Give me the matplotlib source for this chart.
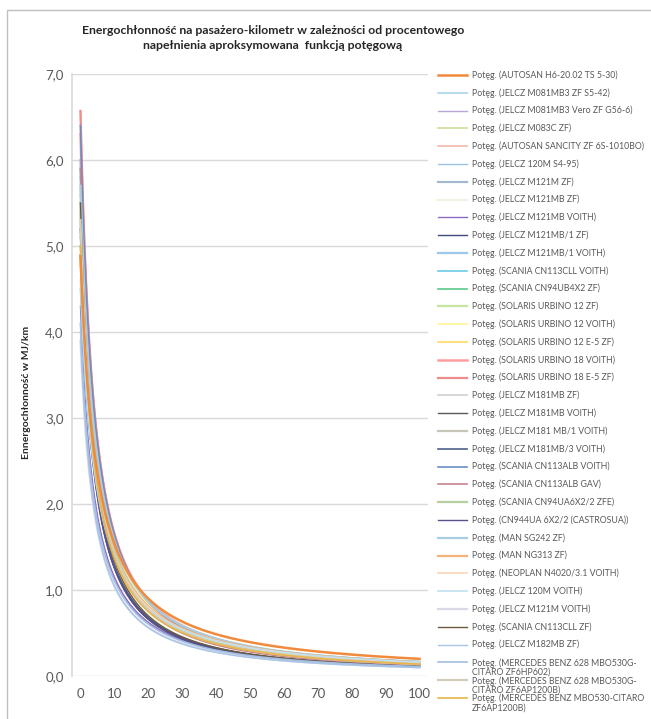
import numpy as np
import matplotlib
matplotlib.use("Agg")
import matplotlib.pyplot as plt
from matplotlib.patches import Rectangle
from matplotlib.lines import Line2D

plt.rcParams['font.family'] = ['Lato', 'DejaVu Sans']

# power-law trendlines y = a * n^b, n = index of category (0, 5, ..., 100 -> 1..21)
names = [
    "AUTOSAN H6-20.02 TS 5-30",
    "JELCZ M081MB3 ZF S5-42",
    "JELCZ M081MB3 Vero ZF G56-6",
    "JELCZ M083C ZF",
    "AUTOSAN SANCITY ZF 6S-1010BO",
    "JELCZ 120M S4-95",
    "JELCZ M121M ZF",
    "JELCZ M121MB ZF",
    "JELCZ M121MB VOITH",
    "JELCZ M121MB/1 ZF",
    "JELCZ M121MB/1 VOITH",
    "SCANIA CN113CLL VOITH",
    "SCANIA CN94UB4X2 ZF",
    "SOLARIS URBINO 12 ZF",
    "SOLARIS URBINO 12 VOITH",
    "SOLARIS URBINO 12 E-5 ZF",
    "SOLARIS URBINO 18 VOITH",
    "SOLARIS URBINO 18 E-5 ZF",
    "JELCZ M181MB ZF",
    "JELCZ M181MB VOITH",
    "JELCZ M181 MB/1 VOITH",
    "JELCZ M181MB/3 VOITH",
    "SCANIA CN113ALB VOITH",
    "SCANIA CN113ALB GAV",
    "SCANIA CN94UA6X2/2 ZFE",
    "CN944UA 6X2/2 (CASTROSUA)",
    "MAN SG242 ZF",
    "MAN NG313 ZF",
    "NEOPLAN N4020/3.1 VOITH",
    "JELCZ 120M VOITH",
    "JELCZ M121M VOITH",
    "SCANIA CN113CLL ZF",
    "JELCZ M182MB ZF",
    "MERCEDES BENZ 628 MBO530G-\nCITARO ZF6HP602",
    "MERCEDES BENZ 628 MBO530G-\nCITARO ZF6AP1200B",
    "MERCEDES BENZ MBO530-CITARO\nZF6AP1200B",
]
coef_a = [4.88, 5.2, 4.1, 5.6, 6.57, 6.4, 6.0, 5.3, 4.3, 5.0, 5.8, 4.5,
          5.9, 5.5, 5.7, 4.8, 6.3, 6.57, 5.6, 5.1, 5.4, 5.2, 6.4, 5.9,
          5.5, 4.9, 5.7, 4.9, 5.0, 4.6, 3.9, 5.5, 4.0, 4.1, 5.3, 5.0]
coef_b = [-1.05, -1.20, -1.17, -1.22, -1.25, -1.26, -1.22, -1.18, -1.20, -1.26,
          -1.20, -1.08, -1.20, -1.18, -1.19, -1.14, -1.22, -1.26, -1.20, -1.25,
          -1.20, -1.27, -1.24, -1.27, -1.20, -1.24, -1.17, -1.12, -1.14, -1.10,
          -1.20, -1.28, -1.22, -1.19, -1.20, -1.18]

colors = ["#F08A3C", "#A9D4EC", "#B9A7D6", "#C9DE9A", "#F0B8A8", "#9DC3E6",
          "#A6B8CF", "#F2F2E4", "#8B6BC2", "#3E4A7A", "#9CC8EE", "#6CCBEA",
          "#5BC98A", "#C7E3A0", "#FFF59A", "#FFD966", "#FF9E9E", "#EE8C8C",
          "#D0D0D0", "#5A5A5A", "#C8C6B8", "#4E5F8A", "#6C8EC4", "#C9848F",
          "#B8CFA0", "#5B4F8C", "#A7CDE0", "#F5B27A", "#FAD4B8", "#BFE0EE",
          "#D8D8E6", "#6B5A3E", "#A8C6E8", "#A4BFE2", "#D2CDB8", "#E8B54A"]
widths = [1.8, 1.2, 1.0, 1.2, 1.2, 1.0, 1.6, 1.6, 1.0, 1.0, 1.6, 1.2,
          1.2, 1.6, 1.2, 1.2, 1.8, 1.6, 1.2, 1.0, 1.6, 1.2, 1.2, 1.2,
          1.6, 1.0, 1.6, 1.6, 1.2, 1.2, 1.6, 1.0, 1.0, 1.2, 1.6, 1.2]

pct = np.linspace(0, 100, 801)
idx = pct / 5 + 1

W, H = 651, 719
fig = plt.figure(figsize=(6.51, 7.19), dpi=100)
ax = fig.add_axes([72 / W, 1 - 676 / H, 356 / W, 602 / H])

lines = []
for name, a, b, c, w in zip(names, coef_a, coef_b, colors, widths):
    ln, = ax.plot(pct, a * idx ** b, color=c, lw=w)
    lines.append(ln)
lines[0].set_zorder(3)

ax.set_xlim(-2.5, 102.5)
ax.set_ylim(0, 7)
ax.set_xticks(range(0, 101, 10))
yt = np.arange(0, 7.1, 1)
ax.set_yticks(yt)
ax.set_yticklabels([f"{v:.1f}".replace(".", ",") for v in yt])
ax.tick_params(length=0, labelsize=9.5, labelcolor="#595959", pad=6)
ax.tick_params(axis="x", pad=9)
ax.grid(axis="y", color="#D9D9D9", lw=1)
ax.set_axisbelow(True)
for s in ["top", "right", "bottom"]:
    ax.spines[s].set_visible(False)
ax.spines["left"].set_color("#D9D9D9")
ax.spines["left"].set_linewidth(1.2)

fig.text(273 / W, 1 - 38 / H,
         "Energochłonność na pasażero-kilometr w zależności od procentowego\n"
         "napełnienia aproksymowana  funkcją potęgową",
         ha="center", va="center", fontsize=8.8, fontweight="bold",
         color="#262626", linespacing=1.45)
fig.text(27 / W, 1 - 392 / H, "Ennergochłonność w MJ/km", rotation=90,
         ha="center", va="center", fontsize=7.5, fontweight="bold", color="#262626")

# legend drawn row by row, same pitch as the original
for i, (name, c, w) in enumerate(zip(names, colors, widths)):
    y = 75 + i * 17.8
    fig.add_artist(Line2D([438 / W, 467 / W], [1 - y / H, 1 - y / H], color=c, lw=w,
                          transform=fig.transFigure))
    label = "Potęg. (" + name + ")"
    if "\n" in name:
        fig.text(472 / W, 1 - (y + 5) / H, label, va="center", ha="left",
                 fontsize=6.3, color="#595959", linespacing=0.98)
    else:
        fig.text(472 / W, 1 - y / H, label, va="center", ha="left", fontsize=6.3,
                 color="#595959")

fig.add_artist(Rectangle((7 / W, -0.05), 1.0, 1 - 10 / H + 0.05,
                         transform=fig.transFigure, fill=False,
                         edgecolor="#BFBFBF", lw=1))

fig.savefig("out.png", dpi=100)
